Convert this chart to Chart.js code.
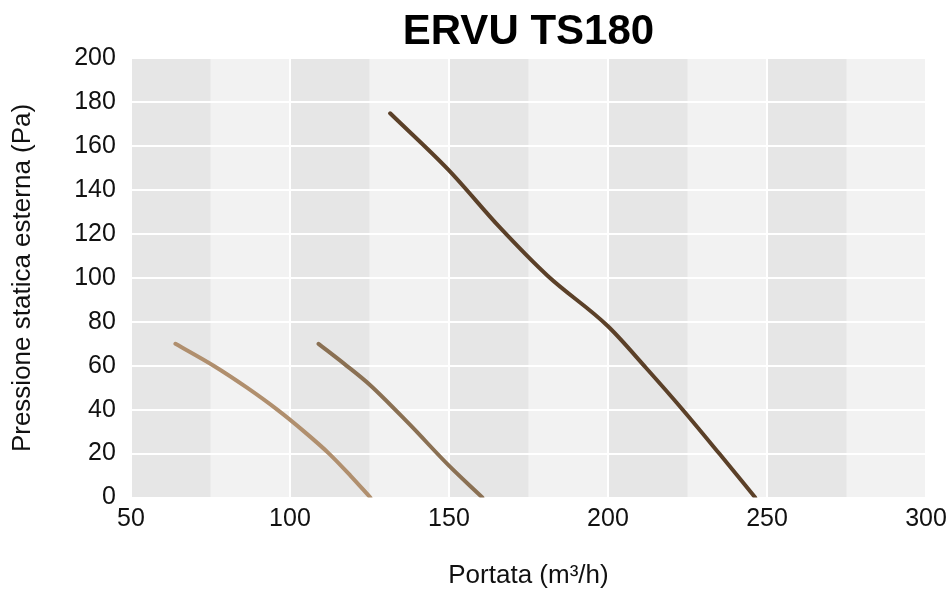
<!DOCTYPE html>
<html>
<head>
<meta charset="utf-8">
<script src="https://cdn.jsdelivr.net/npm/chart.js@4"></script>
<style>
  html, body { margin: 0; padding: 0; background: #ffffff; }
  #wrap { width: 949px; height: 589px; }
</style>
</head>
<body>
<div id="wrap"><canvas id="c" width="949" height="589"></canvas></div>
<script>
const chartTitle = "ERVU TS180";
const xTitle = "Portata (m³/h)";
const yTitle = "Pressione statica esterna (Pa)";

const flowLow = [64, 76, 86.5, 96, 104.5, 112.3, 119, 125.3];
const pressLow = [70, 60, 50, 40, 30, 20, 10, 0];

const flowMid = [109, 117, 125, 137.5, 150, 160.5];
const pressMid = [70, 61, 51.5, 33.5, 14.5, 0];

const flowHigh = [131.5, 150, 166, 181, 200, 212, 223.5, 235, 246.3];
const pressHigh = [175, 149, 123, 101, 78, 59, 40, 20, 0];

const xMin = 50, xMax = 300, xStep = 50;
const yMin = 0, yMax = 200, yStep = 20;

function pts(xs, ys) { return xs.map((x, i) => ({ x: x, y: ys[i] })); }

const bandPlugin = {
  id: 'bands',
  beforeDraw(chart) {
    const { ctx, chartArea: a, scales: { x } } = chart;
    ctx.save();
    ctx.fillStyle = '#f2f2f2';
    ctx.fillRect(a.left, a.top, a.right - a.left, a.bottom - a.top);
    const ticks = x.ticks.map(t => t.value);
    const half = (ticks[1] - ticks[0]) / 2;
    ctx.fillStyle = '#e6e6e6';
    for (let i = 0; i < ticks.length - 1; i++) {
      const l = x.getPixelForValue(ticks[i]);
      const r = x.getPixelForValue(ticks[i] + half);
      ctx.fillRect(l, a.top, r - l, a.bottom - a.top);
    }
    ctx.restore();
  }
};

const lineStyle = (color) => ({
  borderColor: color,
  backgroundColor: color,
  borderWidth: 4,
  borderCapStyle: 'round',
  borderJoinStyle: 'round',
  pointRadius: 0,
  pointHoverRadius: 0,
  showLine: true,
  cubicInterpolationMode: 'monotone',
  fill: false
});

new Chart(document.getElementById('c'), {
  type: 'scatter',
  data: {
    datasets: [
      Object.assign({ label: 'low', data: pts(flowLow, pressLow) }, lineStyle('#b08f6e')),
      Object.assign({ label: 'mid', data: pts(flowMid, pressMid) }, lineStyle('#8a7053')),
      Object.assign({ label: 'high', data: pts(flowHigh, pressHigh) }, lineStyle('#5b4028'))
    ]
  },
  options: {
    responsive: false,
    animation: false,
    devicePixelRatio: 1,
    layout: { padding: { left: 0, right: 23, top: 0, bottom: 0 } },
    plugins: {
      legend: { display: false },
      tooltip: { enabled: false },
      title: {
        display: true,
        text: chartTitle,
        fullSize: false,
        color: '#000000',
        font: { family: "'Liberation Sans', Arial, sans-serif", size: 42, weight: 'bold', lineHeight: 1.2 },
        padding: { top: 7, bottom: 1 }
      }
    },
    scales: {
      x: {
        type: 'linear',
        min: xMin, max: xMax,
        border: { display: false },
        grid: { color: '#ffffff', lineWidth: 2, drawTicks: false },
        afterFit(scale) { scale.paddingRight = 0; scale.paddingLeft = 0; },
        ticks: {
          stepSize: xStep,
          padding: 7,
          color: '#111111',
          maxRotation: 0,
          font: { family: "'Liberation Sans', Arial, sans-serif", size: 25 }
        },
        title: {
          display: true,
          text: xTitle,
          color: '#111111',
          font: { family: "'Liberation Sans', Arial, sans-serif", size: 26, lineHeight: 1 },
          padding: { top: 21.5, bottom: 0 }
        }
      },
      y: {
        type: 'linear',
        min: yMin, max: yMax,
        border: { display: false },
        grid: { color: '#ffffff', lineWidth: 2, drawTicks: false },
        ticks: {
          stepSize: yStep,
          padding: 15,
          color: '#111111',
          font: { family: "'Liberation Sans', Arial, sans-serif", size: 25 }
        },
        title: {
          display: true,
          text: yTitle,
          color: '#111111',
          font: { family: "'Liberation Sans', Arial, sans-serif", size: 26, lineHeight: 1.2 },
          padding: { top: 7, bottom: 21 }
        }
      }
    }
  },
  plugins: [bandPlugin]
});
</script>
</body>
</html>
